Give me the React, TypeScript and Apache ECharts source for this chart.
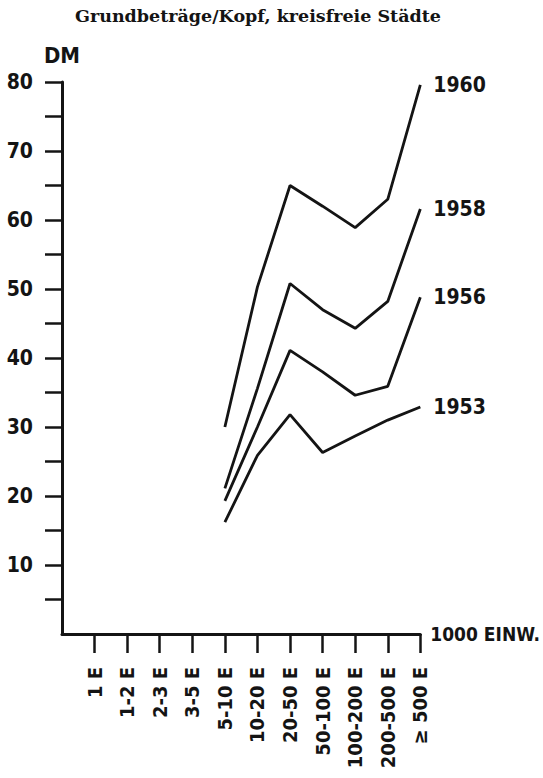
import React, { useEffect, useRef } from "react";
import * as echarts from "echarts";

const TITLE = "Grundbeträge/Kopf, kreisfreie Städte";
const Y_NAME = "DM";
const X_NAME = "1000 EINW.";
const categories = ["1 E", "1-2 E", "2-3 E", "3-5 E", "5-10 E", "10-20 E", "20-50 E", "50-100 E", "100-200 E", "200-500 E", "≥ 500 E"];
// values exist from "5-10 E" onward
const firstDataIndex = 4;
const s1953 = [16.2, 25.9, 31.8, 26.3, 28.7, 31.0, 32.9];
const s1956 = [19.3, 30.0, 41.1, 38.0, 34.6, 35.9, 48.8];
const s1958 = [21.1, 35.6, 50.8, 47.0, 44.3, 48.2, 61.6];
const s1960 = [30.0, 50.3, 65.0, 62.0, 58.9, 63.0, 79.6];
const seriesList = [
  { name: "1960", values: s1960 },
  { name: "1958", values: s1958 },
  { name: "1956", values: s1956 },
  { name: "1953", values: s1953 },
];
const yTicks = [5, 10, 15, 20, 25, 30, 35, 40, 45, 50, 55, 60, 65, 70, 75, 80];
const yLabels = [10, 20, 30, 40, 50, 60, 70, 80];

const HAND = "'DejaVu Sans Condensed', 'Noto Sans', sans-serif";
const INK = "#141414";

export default function App() {
  const ref = useRef<HTMLDivElement>(null);
  useEffect(() => {
    if (!ref.current) return;
    const chart = echarts.init(ref.current, null, { renderer: "svg" });
    const axisCats = ["", ...categories];
    const pad = (v: number[]) => {
      const arr: (number | null)[] = new Array(firstDataIndex + 1).fill(null);
      return arr.concat(v);
    };
    chart.setOption({
      animation: false,
      backgroundColor: "#ffffff",
      title: {
        text: TITLE,
        left: 70,
        top: 2,
        textStyle: {
          fontFamily: "'DejaVu Serif', 'Liberation Serif', serif",
          fontWeight: "bold",
          fontSize: 17.5,
          color: INK,
        },
      },
      grid: { left: 62, right: 116, top: 82, bottom: 144, containLabel: false },
      xAxis: {
        type: "category",
        data: axisCats,
        boundaryGap: false,
        name: X_NAME,
        nameLocation: "end",
        nameGap: 10,
        nameTextStyle: { fontFamily: HAND, fontSize: 19, fontWeight: "bold", color: INK, align: "left", verticalAlign: "middle" },
        axisLine: { lineStyle: { color: INK, width: 3 } },
        axisTick: { show: true, inside: false, length: 19, interval: (i: number) => i > 0, lineStyle: { color: INK, width: 2.5 } },
        axisLabel: {
          rotate: 90,
          interval: 0,
          margin: 33,
          fontFamily: HAND,
          fontSize: 20,
          fontWeight: "bold",
          color: INK,
        },
        splitLine: { show: false },
      },
      yAxis: {
        type: "value",
        min: 0,
        max: 80,
        interval: 5,
        name: Y_NAME,
        nameLocation: "end",
        nameGap: 27,
        nameTextStyle: { fontFamily: HAND, fontSize: 22, fontWeight: "bold", color: INK, align: "center", verticalAlign: "middle" },
        axisLine: { show: true, lineStyle: { color: INK, width: 3 } },
        axisTick: { show: true, inside: false, length: 17, customValues: yTicks, lineStyle: { color: INK, width: 2.5 } },
        axisLabel: {
          customValues: yLabels,
          margin: 29,
          fontFamily: HAND,
          fontSize: 21,
          fontWeight: "bold",
          color: INK,
        },
        splitLine: { show: false },
      },
      series: seriesList.map((s) => ({
        type: "line",
        name: s.name,
        data: pad(s.values),
        symbol: "none",
        lineStyle: { color: INK, width: 2.8 },
        endLabel: {
          show: true,
          formatter: "{a}",
          distance: 13,
          fontFamily: HAND,
          fontSize: 21,
          fontWeight: "bold",
          color: INK,
        },
      })),
    });
    return () => chart.dispose();
  }, []);
  return <div ref={ref} style={{ width: 543, height: 778, position: "absolute", left: 0, top: 0 }} />;
}
